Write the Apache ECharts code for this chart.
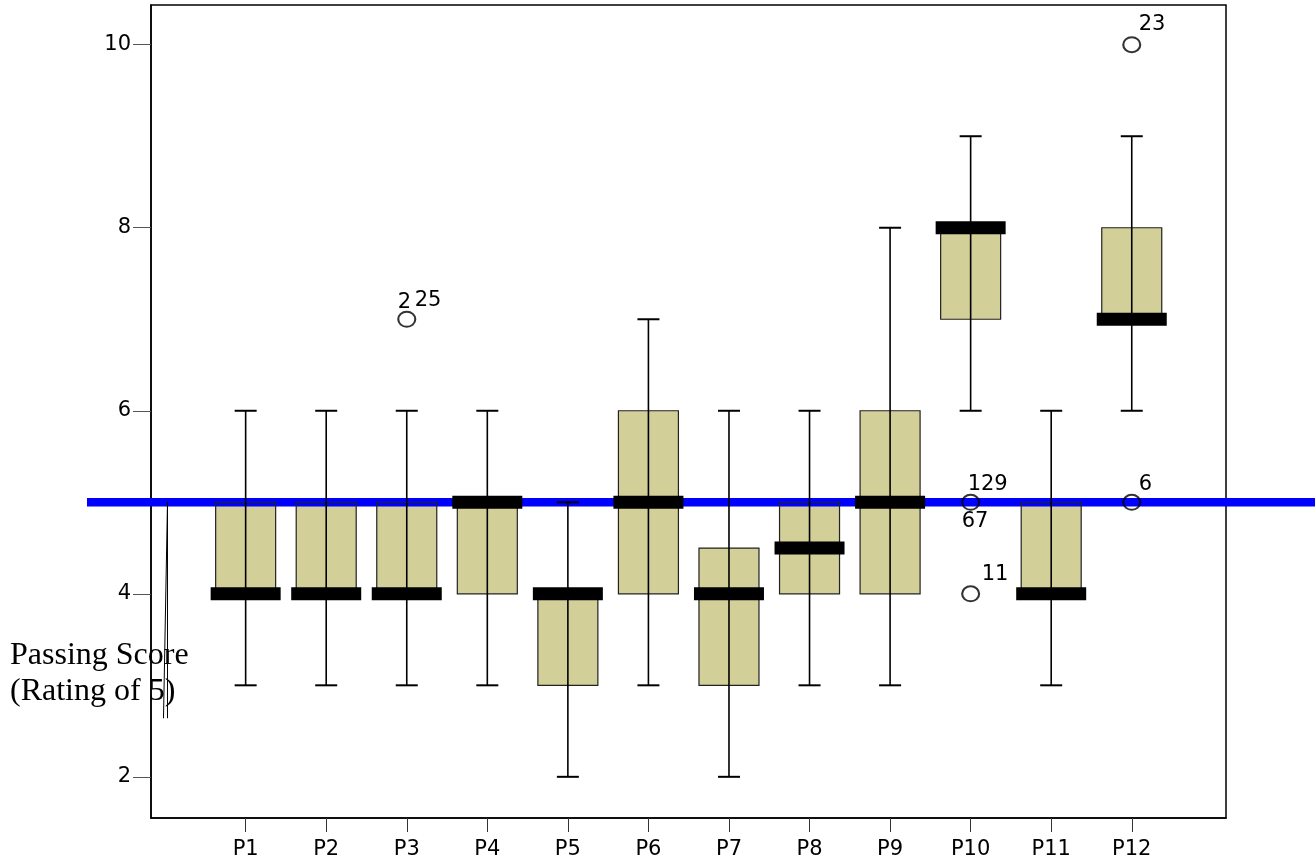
<!DOCTYPE html>
<html>
<head>
<meta charset="utf-8">
<title>Ratings by panel member</title>
<script src="https://cdn.jsdelivr.net/npm/echarts@6.0.0/dist/echarts.min.js"></script>
<style>
html, body { margin: 0; padding: 0; background: #fff; }
#main { width: 1315px; height: 862px; }
</style>
</head>
<body>
<div id="main"></div>
<script>
// five-number summaries
var categories  = ['P1', 'P2', 'P3', 'P4', 'P5', 'P6', 'P7', 'P8', 'P9', 'P10', 'P11', 'P12'];
var whiskerLow  = [3, 3, 3, 3, 2, 3, 2, 3, 3, 6, 3, 6];
var quartile1   = [4, 4, 4, 4, 3, 4, 3, 4, 4, 7, 4, 7];
var medians     = [4, 4, 4, 5, 4, 5, 4, 4.5, 5, 8, 4, 7];
var quartile3   = [5, 5, 5, 5, 4, 6, 4.5, 5, 6, 8, 5, 8];
var whiskerHigh = [6, 6, 6, 6, 5, 7, 6, 6, 8, 9, 6, 9];

var yTicks = [2, 4, 6, 8, 10];
var passingScore = 5;

// outliers (position on the x scale, value)
var outlierPos   = [3, 10, 10, 12, 12];
var outlierValue = [7, 5, 4, 10, 5];

// case numbers printed next to the outliers
var caseLabelPos   = [3, 3, 10, 10, 10, 12, 12];
var caseLabelValue = [7, 7, 5, 5, 4, 10, 5];
var caseLabelText  = ['2', '25', '129', '67', '11', '23', '6'];

// style / layout
var caseLabelOffset = [[-9, -17], [8, -19], [-3, -18], [-9, 19], [11, -19], [7, -20], [7, -18]];
var BOX_W = 60, MED_W = 70, MED_H = 13, CAP_W = 22;
var BOX_FILL = '#d3cf99';
var SANS = '"DejaVu Sans", sans-serif';
var FONT_SIZE = 21;

var xTickValues = categories.map(function (c, i) { return i + 1; });
var boxData = categories.map(function (c, i) {
    return [i + 1, whiskerLow[i], quartile1[i], medians[i], quartile3[i], whiskerHigh[i]];
});
var outlierData = outlierPos.map(function (p, i) { return [p, outlierValue[i]]; });
var caseLabelData = caseLabelPos.map(function (p, i) { return [p, caseLabelValue[i], i]; });

function renderBoxFill(params, api) {
    var x = api.value(0);
    var q3 = api.coord([x, api.value(4)]);
    var q1 = api.coord([x, api.value(2)]);
    return {
        type: 'rect',
        shape: { x: q3[0] - BOX_W / 2, y: q3[1], width: BOX_W, height: q1[1] - q3[1] },
        style: { fill: BOX_FILL }
    };
}

function renderBoxLines(params, api) {
    var x = api.value(0);
    var lo = api.coord([x, api.value(1)]);
    var q1 = api.coord([x, api.value(2)]);
    var md = api.coord([x, api.value(3)]);
    var q3 = api.coord([x, api.value(4)]);
    var hi = api.coord([x, api.value(5)]);
    var cx = lo[0];
    return {
        type: 'group',
        children: [
            { type: 'rect', shape: { x: cx - BOX_W / 2, y: q3[1], width: BOX_W, height: q1[1] - q3[1] },
              style: { fill: null, stroke: '#222', lineWidth: 1.2 } },
            { type: 'line', shape: { x1: cx, y1: hi[1], x2: cx, y2: lo[1] },
              style: { stroke: '#000', lineWidth: 1.6 } },
            { type: 'line', shape: { x1: cx - CAP_W / 2, y1: hi[1], x2: cx + CAP_W / 2, y2: hi[1] },
              style: { stroke: '#000', lineWidth: 2 } },
            { type: 'line', shape: { x1: cx - CAP_W / 2, y1: lo[1], x2: cx + CAP_W / 2, y2: lo[1] },
              style: { stroke: '#000', lineWidth: 2 } },
            { type: 'rect', shape: { x: cx - MED_W / 2, y: md[1] - MED_H / 2, width: MED_W, height: MED_H },
              style: { fill: '#000' } }
        ]
    };
}

function renderPassingLine(params, api) {
    var p = api.coord([api.value(0), api.value(1)]);
    return {
        type: 'group',
        children: [
            { type: 'rect', shape: { x: 87, y: p[1] - 4.25, width: 1315 - 87, height: 8.5 },
              style: { fill: '#0000ff' } },
            { type: 'polyline',
              shape: { points: [[p[0] - 1.6, p[1] + 216], [p[0] + 2.4, p[1]], [p[0] + 2.4, p[1] + 216]] },
              style: { stroke: '#000', lineWidth: 1, fill: null } }
        ]
    };
}

function renderCaseLabel(params, api) {
    var p = api.coord([api.value(0), api.value(1)]);
    var i = api.value(2);
    return {
        type: 'text',
        x: p[0] + caseLabelOffset[i][0],
        y: p[1] + caseLabelOffset[i][1],
        style: {
            text: caseLabelText[i],
            font: FONT_SIZE + 'px ' + SANS,
            fill: '#000',
            align: 'left',
            verticalAlign: 'middle'
        }
    };
}

var chart = echarts.init(document.getElementById('main'));
chart.setOption({
    animation: false,
    backgroundColor: '#fff',
    grid: {
        left: 151, right: 89, top: 5, bottom: 44,
        show: true, borderColor: '#000', borderWidth: 1.5,
        outerBoundsMode: 'none'
    },
    xAxis: {
        type: 'value',
        min: -0.175,
        max: 13.17,
        splitLine: { show: false },
        axisLine: { show: true, onZero: false, lineStyle: { color: '#000', width: 1.5 } },
        axisTick: { show: true, customValues: xTickValues, length: 14, lineStyle: { color: '#333', width: 1 } },
        axisLabel: {
            customValues: xTickValues,
            formatter: function (v) { return categories[Math.round(v) - 1]; },
            fontFamily: SANS, fontSize: FONT_SIZE, color: '#000', margin: 21
        }
    },
    yAxis: {
        type: 'value',
        min: 1.55,
        max: 10.434,
        splitLine: { show: false },
        axisLine: { show: true, onZero: false, lineStyle: { color: '#000', width: 1.5 } },
        axisTick: { show: true, customValues: yTicks, length: 18, lineStyle: { color: '#555', width: 1 } },
        axisLabel: { customValues: yTicks, fontFamily: SANS, fontSize: FONT_SIZE, color: '#000', margin: 20,
                     padding: [4, 0, 0, 0] }
    },
    graphic: [{
        type: 'text',
        left: 10,
        top: 638,
        z: 100,
        style: {
            text: 'Passing Score\n(Rating of 5)',
            font: '32px "Liberation Serif", serif',
            lineHeight: 36,
            fill: '#000'
        }
    }],
    series: [
        { type: 'custom', z: 2, silent: true, data: boxData, encode: { x: 0, y: [1, 2, 3, 4, 5] },
          renderItem: renderBoxFill },
        { type: 'custom', z: 3, silent: true, data: [[0, passingScore]], encode: { x: 0, y: 1 },
          renderItem: renderPassingLine },
        { type: 'custom', z: 4, silent: true, data: boxData, encode: { x: 0, y: [1, 2, 3, 4, 5] },
          renderItem: renderBoxLines },
        { type: 'scatter', z: 5, silent: true, data: outlierData, symbol: 'circle', symbolSize: [17, 15],
          itemStyle: { color: 'rgba(0,0,0,0)', borderColor: '#000', borderWidth: 2 } },
        { type: 'custom', z: 6, silent: true, data: caseLabelData, encode: { x: 0, y: 1 },
          renderItem: renderCaseLabel }
    ]
});
</script>
</body>
</html>
